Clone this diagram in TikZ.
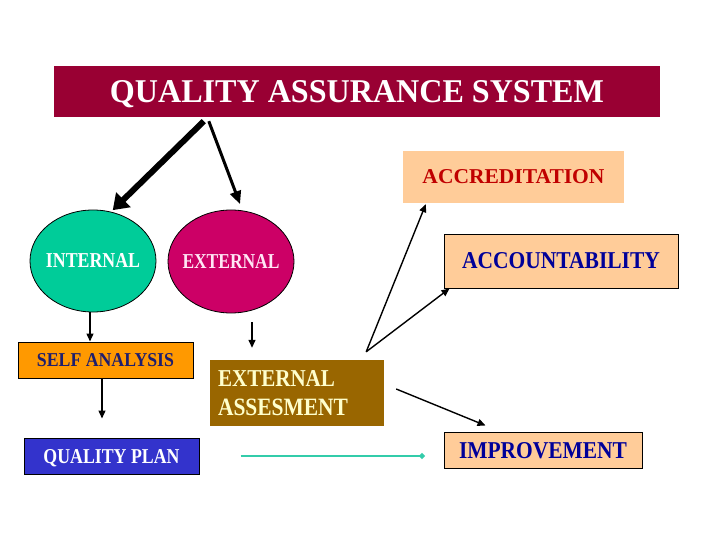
\documentclass[tikz,border=0pt]{standalone}
\usepackage{fontspec}
\setmainfont{Liberation Serif}
\usepackage{graphicx}
\usetikzlibrary{arrows.meta,shapes.geometric,calc}
\definecolor{titlebg}{RGB}{153,0,51}
\definecolor{intgreen}{RGB}{0,204,153}
\definecolor{extmag}{RGB}{204,0,102}
\definecolor{peach}{RGB}{255,204,153}
\definecolor{darkred}{RGB}{192,0,0}
\definecolor{navy}{RGB}{0,0,153}
\definecolor{selfnavy}{RGB}{30,30,110}
\definecolor{orange}{RGB}{255,153,0}
\definecolor{planblue}{RGB}{51,51,204}
\definecolor{brownbox}{RGB}{153,102,0}
\definecolor{cream}{RGB}{255,255,204}
\definecolor{teal}{RGB}{51,204,170}
\definecolor{pinkwhite}{RGB}{255,230,245}
\newcommand{\fit}[3]{\raisebox{0pt}[#2pt][0pt]{\resizebox{#1pt}{#2pt}{\bfseries #3}}}
\begin{document}
\begin{tikzpicture}[x=1pt,y=-1pt,
  boxnode/.style={rectangle,inner sep=0pt,anchor=center},
  ellnode/.style={ellipse,inner sep=0pt,draw=black,line width=0.8pt,anchor=center},
  thinarr/.style={line width=1.4pt,-{Triangle[length=8pt,width=7pt]}},
  ]
\useasboundingbox (0,0) rectangle (720,540);
\fill[white] (0,0) rectangle (720,540);
\node[boxnode,fill=titlebg,minimum width=606pt,minimum height=51pt,text=white] (title) at (357,91.5) {\fit{494}{22}{QUALITY ASSURANCE SYSTEM}};
\node[ellnode,fill=intgreen,minimum width=126pt,minimum height=102pt,text=white] (internal) at (93,261) {\makebox[0pt]{\fit{94}{14}{INTERNAL}}};
\node[ellnode,fill=extmag,minimum width=126pt,minimum height=103pt,text=pinkwhite] (external) at (231,261.5) {\makebox[0pt]{\fit{97}{14}{EXTERNAL}}};
\node[boxnode,fill=peach,minimum width=221pt,minimum height=52pt,text=darkred] (accred) at (513.5,177) {\fit{182}{14}{ACCREDITATION}};
\node[boxnode,fill=peach,draw=black,line width=1pt,minimum width=234pt,minimum height=54pt,text=navy] (accnt) at (561,261) {\fit{198}{16}{ACCOUNTABILITY}};
\node[boxnode,fill=orange,draw=black,line width=1pt,minimum width=175pt,minimum height=36pt,text=selfnavy] (selfan) at (105.5,360) {\fit{137}{13}{SELF ANALYSIS}};
\node[boxnode,fill=planblue,draw=black,line width=1pt,minimum width=175pt,minimum height=36pt,text=white] (qplan) at (111.5,456) {\fit{136}{14}{QUALITY PLAN}};
\node[boxnode,fill=brownbox,minimum width=174pt,minimum height=66pt,text=cream,align=left,text width=158pt,inner xsep=8pt,font=\fontsize{10}{29}\selectfont] (extass) at (297,393) {\fit{117}{16}{EXTERNAL}\\\fit{130}{16.5}{ASSESMENT}};
\node[boxnode,fill=peach,draw=black,line width=1pt,minimum width=198pt,minimum height=36pt,text=navy] (improve) at (543,450) {\fit{168}{16}{IMPROVEMENT}};
% arrows from title
\draw[line width=6pt,-{Triangle[length=15pt,width=20pt]}] ($(title.south west)+(150,4)$) -- ($(internal.68)+(0,-2)$);
\draw[line width=3pt,-{Triangle[length=13pt,width=11pt]}] ($(title.south west)+(155,4)$) -- ($(external.80)+(0,-6)$);
% internal chain
\draw[thinarr] ($(internal.south)+(-3,0)$) -- ($(selfan.north)+(-15.5,0)$);
\draw[thinarr] ($(selfan.south)+(-3.5,0)$) -- ($(qplan.north)+(-9.5,-19)$);
% external chain
\draw[thinarr] ($(external.south)+(21,9)$) -- ($(extass.north)+(-45,-12)$);
\draw[thinarr] ($(extass.north east)+(-18,-8)$) -- ($(accred.south west)+(23,1)$);
\draw[thinarr] ($(extass.north east)+(-18,-8)$) -- ($(accnt.south west)+(6,0)$);
\draw[thinarr] ($(extass.east)+(12,-4)$) -- ($(improve.north west)+(42,-6)$);
% quality plan to improvement
\draw[teal,line width=2.5pt,-{Circle[length=5pt]}] ($(qplan.east)+(41,0)$) -- ($(improve.west)+(-19,6)$);
\end{tikzpicture}
\end{document}
